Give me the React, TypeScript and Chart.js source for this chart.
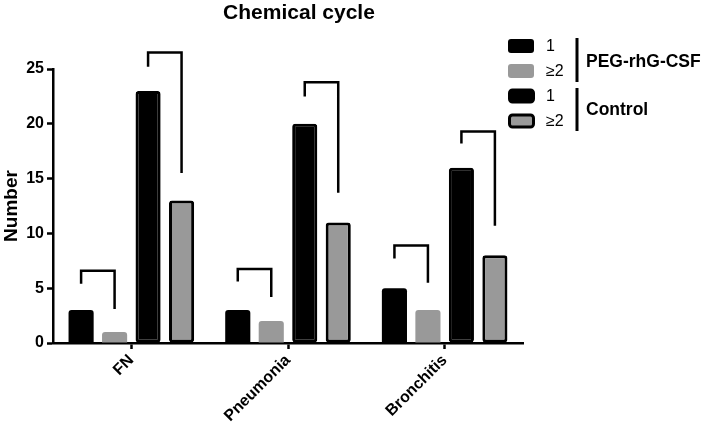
import React, { useEffect, useRef } from "react";
import { Chart, registerables } from "chart.js";

Chart.register(...registerables);

const categories = ["FN", "Pneumonia", "Bronchitis"];
const peg1 = [3, 3, 5];
const peg2 = [1, 2, 3];
const ctrl1 = [23, 20, 16];
const ctrl2 = [13, 11, 8];
const yTicks = [0, 5, 10, 15, 20, 25];

// bracket levels (value units): top bar, left leg end, right leg end
const pegBracketTop = [6.6, 6.75, 8.9];
const pegBracketLeft = [5.4, 5.6, 7.7];
const pegBracketRight = [3.1, 4.2, 5.5];
const ctrlBracketTop = [26.5, 23.8, 19.3];
const ctrlBracketLeft = [25.2, 22.5, 18.2];
const ctrlBracketRight = [15.5, 13.7, 10.7];

const legendItems = ["1", "≥2", "1", "≥2"];
const legendGroups = ["PEG-rhG-CSF", "Control"];

const BLACK = "#000000";
const GRAY = "#999999";
const FONT = "'Liberation Sans', Arial, sans-serif";

const bracketPlugin = {
  id: "brackets",
  afterDatasetsDraw(chart: any) {
    const ctx = chart.ctx;
    const y = chart.scales.y;
    const drawBracket = (x1: number, x2: number, top: number, l: number, r: number) => {
      ctx.beginPath();
      ctx.moveTo(x1, y.getPixelForValue(l));
      ctx.lineTo(x1, y.getPixelForValue(top));
      ctx.lineTo(x2, y.getPixelForValue(top));
      ctx.lineTo(x2, y.getPixelForValue(r));
      ctx.stroke();
    };
    ctx.save();
    ctx.strokeStyle = BLACK;
    ctx.lineWidth = 2.5;
    ctx.lineJoin = "miter";
    ctx.lineCap = "butt";
    const m0 = chart.getDatasetMeta(0).data;
    const m1 = chart.getDatasetMeta(1).data;
    const m2 = chart.getDatasetMeta(2).data;
    const m3 = chart.getDatasetMeta(3).data;
    categories.forEach((_, i) => {
      drawBracket(m0[i].x, m1[i].x, pegBracketTop[i], pegBracketLeft[i], pegBracketRight[i]);
      drawBracket(m2[i].x, m3[i].x, ctrlBracketTop[i], ctrlBracketLeft[i], ctrlBracketRight[i]);
    });
    ctx.restore();
  },
  afterDraw(chart: any) {
    const ctx = chart.ctx;
    ctx.save();
    // title
    ctx.fillStyle = BLACK;
    ctx.font = `bold 21px ${FONT}`;
    ctx.textAlign = "center";
    ctx.textBaseline = "middle";
    ctx.fillText("Chemical cycle", 299, 13);

    // legend
    const fills = [BLACK, GRAY, BLACK, GRAY];
    const borders = [false, false, true, true];
    legendItems.forEach((label, i) => {
      const top = 39 + i * 25;
      ctx.beginPath();
      if (borders[i]) {
        ctx.roundRect(509.5, top + 1, 24, 12, 3);
        ctx.fillStyle = fills[i];
        ctx.fill();
        ctx.lineWidth = 3;
        ctx.strokeStyle = BLACK;
        ctx.stroke();
      } else {
        ctx.roundRect(508, top, 26, 14, 3);
        ctx.fillStyle = fills[i];
        ctx.fill();
      }
      ctx.fillStyle = BLACK;
      ctx.font = `16px ${FONT}`;
      ctx.textAlign = "left";
      ctx.textBaseline = "middle";
      ctx.fillText(label, 546, top + 8);
    });
    ctx.strokeStyle = BLACK;
    ctx.lineWidth = 3;
    ctx.beginPath();
    ctx.moveTo(577, 38);
    ctx.lineTo(577, 82);
    ctx.moveTo(577, 88);
    ctx.lineTo(577, 131);
    ctx.stroke();
    ctx.font = `bold 17.5px ${FONT}`;
    ctx.textAlign = "left";
    ctx.textBaseline = "middle";
    ctx.fillText(legendGroups[0], 586, 62);
    ctx.fillText(legendGroups[1], 586, 110);
    ctx.restore();
  },
};

export default function App() {
  const ref = useRef<HTMLCanvasElement>(null);
  useEffect(() => {
    document.body.style.margin = "0";
    const common = {
      categoryPercentage: 0.855,
      barPercentage: 0.75,
      borderRadius: 3,
    };
    const chart = new Chart(ref.current!, {
      type: "bar",
      data: {
        labels: categories,
        datasets: [
          { label: "PEG 1", data: peg1, backgroundColor: BLACK, borderWidth: 0, ...common },
          { label: "PEG ≥2", data: peg2, backgroundColor: GRAY, borderWidth: 0, ...common },
          { label: "Control 1", data: ctrl1, backgroundColor: BLACK, borderColor: BLACK, borderWidth: 3, borderSkipped: false, ...common },
          { label: "Control ≥2", data: ctrl2, backgroundColor: GRAY, borderColor: BLACK, borderWidth: 3, borderSkipped: false, ...common },
        ],
      },
      options: {
        responsive: false,
        animation: false,
        layout: { padding: { top: 69, right: 186, left: 0, bottom: 0 } },
        plugins: {
          legend: { display: false },
          title: { display: false },
          tooltip: { enabled: false },
        },
        scales: {
          x: {
            grid: {
              display: true,
              drawOnChartArea: false,
              drawTicks: true,
              tickLength: 6,
              tickWidth: 2.5,
              color: BLACK,
              offset: false,
            },
            border: { display: true, color: BLACK, width: 2.5 },
            ticks: {
              color: BLACK,
              font: { family: FONT, size: 16, weight: "bold" },
              maxRotation: 45,
              minRotation: 45,
              padding: 2,
            },
            afterFit: (s: any) => {
              s.height = 85;
            },
          },
          y: {
            min: 0,
            max: 25,
            afterBuildTicks: (s: any) => {
              s.ticks = yTicks.map((v) => ({ value: v }));
            },
            grid: {
              display: true,
              drawOnChartArea: false,
              drawTicks: true,
              tickLength: 6,
              tickWidth: 2.5,
              color: BLACK,
            },
            border: { display: true, color: BLACK, width: 2.5 },
            ticks: {
              color: BLACK,
              font: { family: FONT, size: 16, weight: "bold" },
              padding: 3,
            },
            title: {
              display: true,
              text: "Number",
              color: BLACK,
              font: { family: FONT, size: 19, weight: "bold" },
              padding: { top: 0, bottom: 0 },
            },
            afterFit: (s: any) => {
              s.width = 53;
            },
          },
        },
      } as any,
      plugins: [bracketPlugin],
    });
    return () => chart.destroy();
  }, []);
  return (
    <div style={{ width: 709, height: 428 }}>
      <canvas ref={ref} width={709} height={428} />
    </div>
  );
}
